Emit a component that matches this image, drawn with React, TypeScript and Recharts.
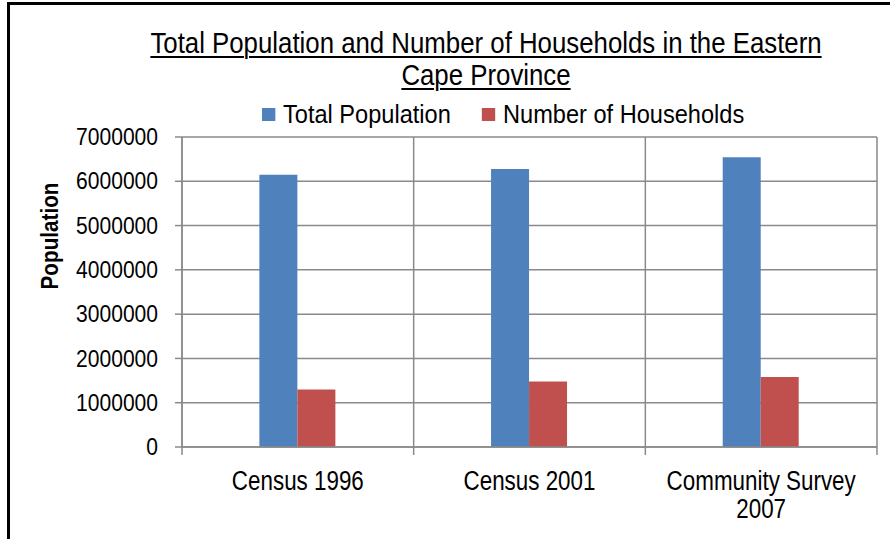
import { BarChart, Bar, XAxis, YAxis, CartesianGrid, Legend, Label } from "recharts";

const categories = ["Census 1996", "Census 2001", "Community Survey 2007"];
const seriesNames = ["Total Population", "Number of Households"];
const totalPopulation = [6150000, 6280000, 6540000];
const households = [1300000, 1480000, 1580000];
const yTicks = [0, 1000000, 2000000, 3000000, 4000000, 5000000, 6000000, 7000000];

const data = categories.map((name, i) => ({
  name,
  total: totalPopulation[i],
  households: households[i],
}));

// Arial-metric font squeezed horizontally to look like Arial Narrow
const FONT = '"Liberation Sans", Arial, sans-serif';
const GRID = "#8a8a8a";
const BLUE = "#4F81BD";
const RED = "#C0504D";

const W = 890;
const H = 539;
const MARGIN = { top: 137, right: 13, bottom: 0, left: 20 };
const Y_W = 162;
const X_H = 92;
const PLOT_W = W - MARGIN.left - Y_W - MARGIN.right;

const CAT_SCALE = 0.8;
const CAT_FONT = 28;

let ctx: CanvasRenderingContext2D | null = null;
const textWidth = (s: string) => {
  if (!ctx) ctx = document.createElement("canvas").getContext("2d");
  if (!ctx) return s.length * CAT_FONT * 0.5;
  ctx.font = `${CAT_FONT}px ${FONT}`;
  return ctx.measureText(s).width;
};

// greedy word wrap, widths in unscaled font units
const wrap = (label: string, maxWidth: number) => {
  const lines: string[] = [];
  let cur = "";
  label.split(" ").forEach((w) => {
    const next = cur ? `${cur} ${w}` : w;
    if (cur && textWidth(next) > maxWidth) {
      lines.push(cur);
      cur = w;
    } else cur = next;
  });
  if (cur) lines.push(cur);
  return lines;
};

const CategoryTick = (props: any) => {
  const { x, y, payload, index, visibleTicksCount } = props;
  const half = payload?.offset || PLOT_W / categories.length / 2;
  const lines = wrap(String(payload.value), (half * 2 - 12) / CAT_SCALE);
  return (
    <g>
      <line x1={x - half} x2={x - half} y1={y} y2={y + 8} stroke={GRID} strokeWidth={1.5} />
      {index === visibleTicksCount - 1 && (
        <line x1={x + half} x2={x + half} y1={y} y2={y + 8} stroke={GRID} strokeWidth={1.5} />
      )}
      <text
        transform={`translate(${x},${y + 43}) scale(${CAT_SCALE},1)`}
        textAnchor="middle"
        fontSize={CAT_FONT}
        fontFamily={FONT}
        fill="#000"
      >
        {lines.map((line, i) => (
          <tspan key={i} x={0} dy={i === 0 ? 0 : 28}>
            {line}
          </tspan>
        ))}
      </text>
    </g>
  );
};

const ValueTick = (props: any) => {
  const { x, y, payload } = props;
  return (
    <text
      transform={`translate(${x},${y}) scale(0.915,1)`}
      textAnchor="end"
      dy="0.355em"
      fontSize={23}
      fontFamily={FONT}
      fill="#000"
    >
      {payload.value}
    </text>
  );
};

const renderLegend = (props: any) => {
  const items = [...(props.payload || [])].sort(
    (a: any, b: any) => seriesNames.indexOf(a.value) - seriesNames.indexOf(b.value)
  );
  return (
    <div
      style={{
        display: "flex",
        alignItems: "center",
        fontFamily: FONT,
        fontSize: 26.5,
        lineHeight: "30px",
        color: "#000",
        whiteSpace: "nowrap",
        transform: "scaleX(0.89)",
        transformOrigin: "0 0",
      }}
    >
      {items.map((entry: any, i: number) => (
        <div key={i} style={{ display: "flex", alignItems: "center", marginRight: 35 }}>
          <span style={{ display: "inline-block", width: 14.6, height: 13, background: entry.color, marginRight: 9 }} />
          <span>{entry.value}</span>
        </div>
      ))}
    </div>
  );
};

export default function App() {
  return (
    <div style={{ position: "absolute", left: 0, top: 0, width: W, height: H, background: "#fff", overflow: "hidden" }}>
      <div
        style={{
          position: "absolute",
          left: 7,
          top: 2,
          width: W - 7,
          height: H - 2,
          borderLeft: "3px solid #000",
          borderTop: "3px solid #000",
          boxSizing: "border-box",
        }}
      />
      <div
        style={{
          position: "absolute",
          left: 86,
          top: 27,
          width: 800,
          textAlign: "center",
          fontFamily: FONT,
          fontSize: 30,
          lineHeight: "32px",
          color: "#000",
          textDecoration: "underline",
          textDecorationThickness: 2,
          textUnderlineOffset: 3,
          transform: "scaleX(0.86)",
          transformOrigin: "50% 0",
          whiteSpace: "nowrap",
        }}
      >
        Total Population and Number of Households in the Eastern
        <br />
        Cape Province
      </div>
      <div style={{ position: "absolute", left: 0, top: 0 }}>
        <BarChart width={W} height={H} data={data} margin={MARGIN} barCategoryGap="33.4%" barGap={0}>
          <CartesianGrid
            stroke={GRID}
            strokeWidth={1.5}
            verticalCoordinatesGenerator={({ offset }: any) =>
              categories
                .map((_, i) => offset.left + (i * offset.width) / categories.length)
                .concat(offset.left + offset.width)
            }
          />
          <XAxis
            dataKey="name"
            height={X_H}
            axisLine={{ stroke: GRID, strokeWidth: 1.5 }}
            tickLine={false}
            tickSize={0}
            tickMargin={0}
            interval={0}
            tick={<CategoryTick />}
          />
          <YAxis
            width={Y_W}
            domain={[0, 7000000]}
            ticks={yTicks}
            interval={0}
            axisLine={{ stroke: GRID, strokeWidth: 1.5 }}
            tickLine={{ stroke: GRID, strokeWidth: 1.5 }}
            tickSize={7}
            tickMargin={17}
            tick={<ValueTick />}
          >
            <Label
              content={() => (
                <text
                  transform="translate(58,236) rotate(-90) scale(0.9,1)"
                  textAnchor="middle"
                  fontSize={23}
                  fontWeight="bold"
                  fontFamily={FONT}
                  fill="#000"
                >
                  Population
                </text>
              )}
            />
          </YAxis>
          <Legend
            layout="horizontal"
            verticalAlign="middle"
            align="center"
            content={renderLegend}
            wrapperStyle={{ top: 99, left: 262, width: "auto", height: 30 }}
          />
          <Bar dataKey="total" name={seriesNames[0]} fill={BLUE} isAnimationActive={false} />
          <Bar dataKey="households" name={seriesNames[1]} fill={RED} isAnimationActive={false} />
        </BarChart>
      </div>
    </div>
  );
}
